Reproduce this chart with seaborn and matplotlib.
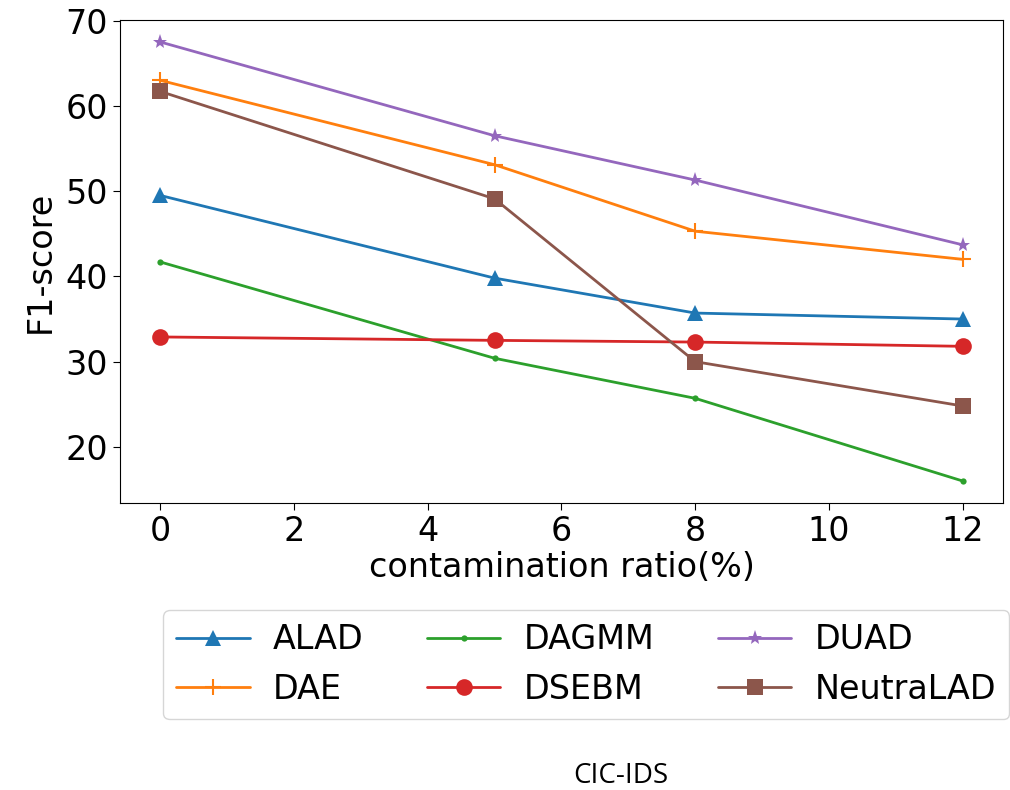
import matplotlib
matplotlib.use("Agg")
import matplotlib.pyplot as plt
import pandas as pd
import seaborn as sns

# Dados
ratios = [0, 5, 8, 12]
methods = ["ALAD", "DAE", "DAGMM", "DSEBM", "DUAD", "NeutraLAD"]
alad = [49.5, 39.8, 35.7, 35.0]
dae = [63.0, 53.1, 45.3, 42.0]
dagmm = [41.7, 30.4, 25.7, 16.0]
dsebm = [32.9, 32.5, 32.3, 31.8]
duad = [67.5, 56.5, 51.3, 43.7]
neutralad = [61.7, 49.1, 30.0, 24.8]

scores = [alad, dae, dagmm, dsebm, duad, neutralad]
markers = ["^", "+", ".", "o", "*", "s"]
sizes = [11, 12, 9, 12, 11, 11]

df = pd.DataFrame({
    "ratio": ratios * len(methods),
    "score": [v for s in scores for v in s],
    "method": [m for m in methods for _ in ratios],
})

sns.set_style("ticks")
plt.rcParams["font.family"] = ["DejaVu Sans"]
for k in ["text.color", "axes.labelcolor", "xtick.color", "ytick.color", "axes.edgecolor"]:
    plt.rcParams[k] = "black"

fig = plt.figure(figsize=(10.1, 7.9), dpi=100)
ax = fig.add_axes([0.1188, 0.3633, 0.8742, 0.6114])

palette = sns.color_palette("tab10", 6)
for i, m in enumerate(methods):
    sub = df[df["method"] == m]
    sns.lineplot(data=sub, x="ratio", y="score", ax=ax, color=palette[i],
                 marker=markers[i], markersize=sizes[i], linewidth=2,
                 markeredgewidth=1.5 if markers[i] == "+" else 0,
                 markeredgecolor=palette[i], label=m)

ax.set_xticks([0, 2, 4, 6, 8, 10, 12])
ax.set_yticks([20, 30, 40, 50, 60, 70])
ax.tick_params(labelsize=24, length=5, color="black")
ax.set_xlabel("contamination ratio(%)", fontsize=24, labelpad=2)
ax.set_ylabel("F1-score", fontsize=24, labelpad=6)

ax.legend(loc="upper left", bbox_to_anchor=(163 / 1010, 1 - 610 / 790),
          bbox_transform=fig.transFigure, borderaxespad=0, ncol=3, fontsize=24,
          handlelength=2.2, handletextpad=0.7, columnspacing=1.9,
          borderpad=0.4, labelspacing=0.5)

fig.text(0.615, 1 - 776 / 790, "CIC-IDS", ha="center", va="center",
         fontsize=20, family=["Liberation Sans Narrow", "Open Sans", "DejaVu Sans"])

fig.savefig("out.png", dpi=100)
